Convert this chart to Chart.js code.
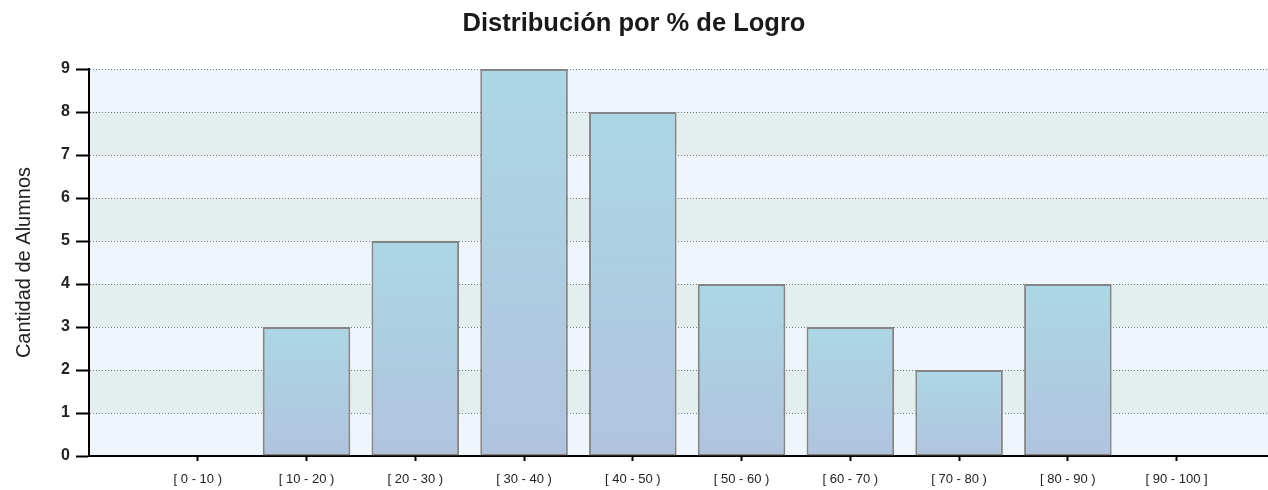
<!DOCTYPE html>
<html lang="es">
<head>
  <meta charset="UTF-8">
  <title>Distribución por % de Logro</title>
  <script src="https://cdn.jsdelivr.net/npm/chart.js@4.4.0/dist/chart.umd.min.js"></script>
  <style>
    * { box-sizing: border-box; margin: 0; padding: 0; }
    body { background: #fff; width: 1268px; height: 490px; overflow: hidden; }
    .wrap { position: relative; width: 1268px; height: 490px; }
  </style>
</head>
<body>
  <div class="wrap"><canvas id="logro" width="1268" height="490"></canvas></div>

  <script>
    // data
    const categories = ['[ 0 - 10 )', '[ 10 - 20 )', '[ 20 - 30 )', '[ 30 - 40 )', '[ 40 - 50 )',
                        '[ 50 - 60 )', '[ 60 - 70 )', '[ 70 - 80 )', '[ 80 - 90 )', '[ 90 - 100 ]'];
    const alumnos = [0, 3, 5, 9, 8, 4, 3, 2, 4, 0];
    const yTicks = [0, 1, 2, 3, 4, 5, 6, 7, 8, 9];

    const FONT = "'Liberation Sans', Arial, sans-serif";
    const barTop = '#acd7e5';
    const barBottom = '#b0c3de';

    // alternating bands behind the plot
    const bands = {
      id: 'bands',
      beforeDraw(chart) {
        const { ctx, chartArea: a, scales: { y } } = chart;
        ctx.save();
        ctx.fillStyle = '#fff';
        ctx.fillRect(0, 0, chart.width, chart.height);
        for (let i = 0; i < yTicks.length - 1; i++) {
          const top = y.getPixelForValue(yTicks[i + 1]);
          const bot = y.getPixelForValue(yTicks[i]);
          ctx.fillStyle = i % 2 === 0 ? '#eef5fd' : '#e3efef';
          ctx.fillRect(a.left, top, a.right - a.left, bot - top);
        }
        ctx.restore();
      }
    };

    function barFill(c) {
      const chart = c.chart;
      if (!chart.chartArea || c.type !== 'data' || !c.parsed) return barTop;
      const y = chart.scales.y;
      const top = y.getPixelForValue(c.parsed.y);
      const bot = y.getPixelForValue(0);
      const g = chart.ctx.createLinearGradient(0, top, 0, Math.max(bot, top + 1));
      g.addColorStop(0, barTop);
      g.addColorStop(1, barBottom);
      return g;
    }

    new Chart(document.getElementById('logro'), {
      type: 'bar',
      data: {
        datasets: [{
          data: alumnos.map((v, i) => ({ x: i + 1, y: v })),
          backgroundColor: barFill,
          borderColor: '#858585',
          borderWidth: 2,
          borderSkipped: false,
          categoryPercentage: 1,
          barPercentage: 0.805
        }]
      },
      options: {
        responsive: false,
        animation: false,
        layout: { padding: 0 },
        plugins: {
          legend: { display: false },
          tooltip: { enabled: false },
          title: {
            display: true,
            text: 'Distribución por % de Logro',
            color: '#1a1a1a',
            font: { family: FONT, size: 25.5, weight: 'bold', lineHeight: 1.2 },
            padding: { top: 9, bottom: 29.4 }
          }
        },
        scales: {
          x: {
            type: 'linear',
            offset: false,
            min: 0,
            max: 10.84,
            afterBuildTicks: s => { s.ticks = categories.map((c, i) => ({ value: i + 1 })); },
            afterFit: s => { s.height = 34; },
            grid: { offset: false, drawOnChartArea: false, drawTicks: true, tickLength: 5, tickColor: '#000', tickWidth: 2 },
            border: { display: true, color: '#000', width: 2 },
            ticks: {
              autoSkip: false,
              maxRotation: 0,
              padding: 11,
              color: '#222',
              font: { family: FONT, size: 13 },
              callback: v => categories[v - 1] ?? ''
            }
          },
          y: {
            min: 0,
            max: 9,
            afterBuildTicks: s => { s.ticks = yTicks.map(v => ({ value: v })); },
            afterFit: s => { s.width = 89; },
            grid: { color: '#777777', lineWidth: 1, tickLength: 13, tickColor: '#000', tickWidth: 2, tickBorderDash: [] },
            border: { display: true, color: '#000', width: 2, dash: [1, 2] },
            ticks: {
              padding: 6,
              color: '#222',
              font: { family: FONT, size: 16, weight: 'bold' }
            },
            title: {
              display: true,
              text: 'Cantidad de Alumnos',
              color: '#222',
              font: { family: FONT, size: 20 },
              padding: { top: 12, bottom: 0 }
            }
          }
        }
      },
      plugins: [bands]
    });
  </script>
</body>
</html>
